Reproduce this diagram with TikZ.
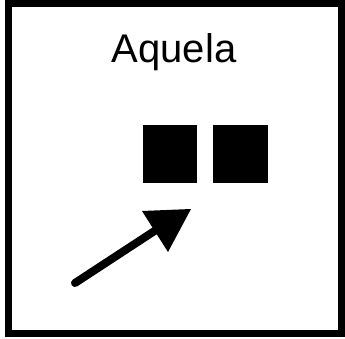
\documentclass[tikz,border=0pt]{standalone}
\usepackage{fontspec}
\setmainfont{Liberation Sans}
\begin{document}
\begin{tikzpicture}[x=1pt,y=-1pt,
  sq/.style={fill=black,draw=none,minimum width=54pt,minimum height=58pt,inner sep=0pt,anchor=north west}]
\useasboundingbox (0,0) rectangle (345,339);
\draw[line width=7pt] (8.5,3.5) rectangle (341.5,333.5);
\node[anchor=base,inner sep=0pt,font=\fontsize{40}{48}\selectfont] (title) at (174,63) {Aquela};
\node[sq] (s1) at (143,125) {};
\node[sq,minimum width=55pt] (s2) at (213,125) {};
\coordinate (tail) at (75,283);
\coordinate (base) at (156,230);
\coordinate (t1) at (142,211);
\coordinate (tip) at (191,209);
\coordinate (t2) at (168,252);
\draw[line width=8pt,line cap=round] (tail) -- (base);
\fill (t1) -- (tip) -- (t2) -- cycle;
\end{tikzpicture}
\end{document}
